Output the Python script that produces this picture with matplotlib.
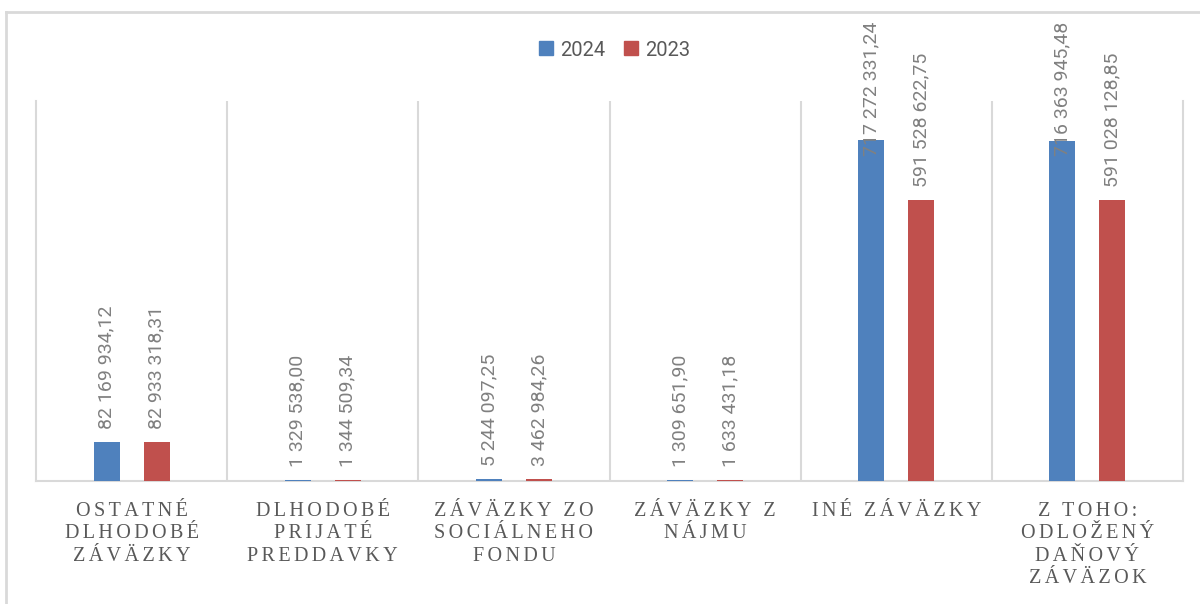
import matplotlib
matplotlib.use("Agg")
import matplotlib.pyplot as plt
from matplotlib.lines import Line2D
import numpy as np

categories = ["OSTATNÉ\nDLHODOBÉ\nZÁVÄZKY",
              "DLHODOBÉ\nPRIJATÉ\nPREDDAVKY",
              "ZÁVÄZKY ZO\nSOCIÁLNEHO\nFONDU",
              "ZÁVÄZKY Z\nNÁJMU",
              "INÉ ZÁVÄZKY",
              "Z TOHO:\nODLOŽENÝ\nDAŇOVÝ\nZÁVÄZOK"]
series_names = ["2024", "2023"]
values_2024 = [82169934.12, 1329538.00, 5244097.25, 1309651.90, 717272331.24, 716363945.48]
values_2023 = [82933318.31, 1344509.34, 3462984.26, 1633431.18, 591528622.75, 591028128.85]

colors = ["#4F81BD", "#C0504D"]
grid_c = "#D9D9D9"
txt_c = "#595959"
lbl_c = "#808080"

W, H = 1200, 604
fig = plt.figure(figsize=(W / 100, H / 100), dpi=100)
ax = fig.add_axes([36 / W, 1 - 481 / H, (1183 - 36) / W, (481 - 101) / H])

x = np.arange(len(categories))
bw = 0.136
off = 0.131
series = [values_2024, values_2023]
for i, (vals, c) in enumerate(zip(series, colors)):
    ax.bar(x + (i * 2 - 1) * off, vals, width=bw, color=c, label=series_names[i], zorder=3)

ax.set_ylim(0, 800e6)
ax.set_xlim(-0.5, len(categories) - 0.5)
ax.set_yticks([])
ax.spines["top"].set_visible(False)
for s in ["left", "right", "bottom"]:
    ax.spines[s].set_color(grid_c)
    ax.spines[s].set_linewidth(1.5)
for xv in np.arange(0.5, len(categories) - 0.5, 1.0):
    ax.axvline(xv, color=grid_c, lw=1.5, zorder=1)


def spaced(s):
    return "\n".join("\u2006".join(list(line)) for line in s.split("\n"))


ax.set_xticks(x)
ax.set_xticklabels([spaced(c) for c in categories], family=["Liberation Serif", "DejaVu Serif"],
                   fontsize=14.5, color=txt_c, linespacing=1.25, va="top")
ax.tick_params(axis="x", length=0, pad=15)


def fmt(v):
    return f"{v:,.2f}".replace(",", " ").replace(".", ",")


anns = []
for i, vals in enumerate(series):
    for xi, v in zip(x, vals):
        a = ax.annotate(fmt(v), xy=(xi + (i * 2 - 1) * off, v), xytext=(0, 13),
                        textcoords="offset pixels", rotation=90, ha="center", va="bottom",
                        family="Roboto", fontsize=14, color=lbl_c, zorder=4)
        anns.append(a)

# legend
handles = [Line2D([], [], marker="s", ls="", markersize=10, color=c) for c in colors]
fig.legend(handles, series_names, loc="center", bbox_to_anchor=(614 / W, 1 - 50 / H),
           ncol=2, frameon=False, handlelength=0.8, handletextpad=0.3, columnspacing=0.85,
           prop={"family": "Roboto", "size": 14.5}, labelcolor=txt_c)

# chart border
fig.add_artist(Line2D([6 / W, 1.0], [1 - 12 / H, 1 - 12 / H], color=grid_c, lw=2, transform=fig.transFigure))
fig.add_artist(Line2D([6 / W, 6 / W], [0, 1 - 12 / H], color=grid_c, lw=2, transform=fig.transFigure))

# push labels that would leave the chart area down inside it
fig.canvas.draw()
r = fig.canvas.get_renderer()
limit = H - 22
for a in anns:
    bb = a.get_window_extent(r)
    if bb.y1 > limit:
        dx, dy = a.xyann
        a.xyann = (dx, dy - (bb.y1 - limit))

fig.savefig("out.png", dpi=100)
